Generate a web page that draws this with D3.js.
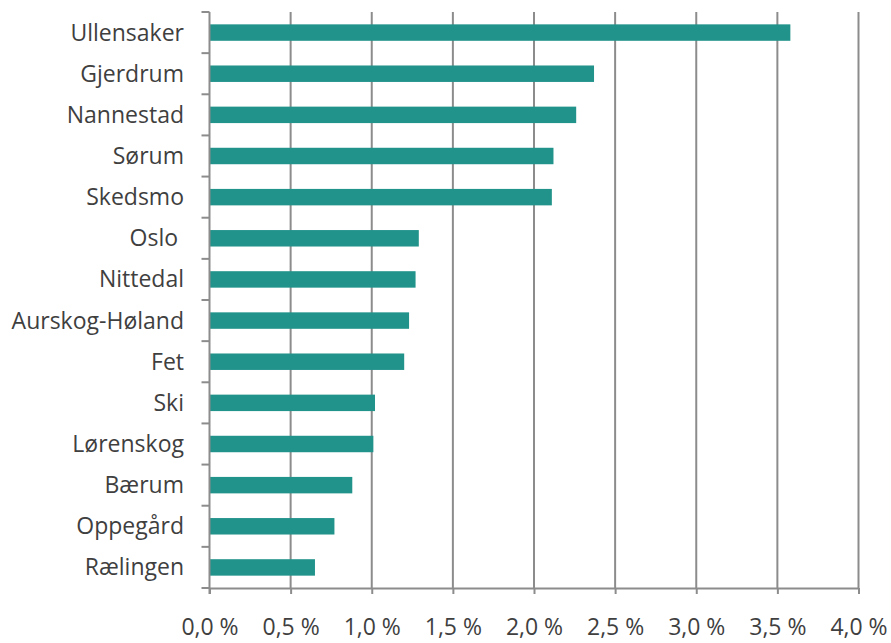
<!DOCTYPE html>
<html>
<head>
<meta charset="utf-8">
<script src="https://cdn.jsdelivr.net/npm/d3@7"></script>
<style>
  body { margin: 0; background: #fff; }
  text { font-family: "Open Sans", sans-serif; fill: #3f3f3f; white-space: pre; }
</style>
</head>
<body>
<div id="chart"></div>
<script>
const kommuner = ['Ullensaker', 'Gjerdrum', 'Nannestad', 'Sørum', 'Skedsmo', 'Oslo ', 'Nittedal',
  'Aurskog-Høland', 'Fet', 'Ski', 'Lørenskog', 'Bærum', 'Oppegård', 'Rælingen']
const vekst = [3.58, 2.37, 2.26, 2.12, 2.11, 1.29, 1.27, 1.23, 1.20, 1.02, 1.01, 0.88, 0.77, 0.65]
const xTicks = [0, 0.5, 1, 1.5, 2, 2.5, 3, 3.5, 4]

const width = 891
const height = 643
const plotLeft = 209.5
const plotRight = 858.5
const plotTop = 12
const plotBottom = 588

const svg = d3.select('#chart')
  .append('svg')
    .attr('width', width)
    .attr('height', height)

const xScale = d3.scaleLinear()
  .domain([0, 4])
  .range([plotLeft, plotRight])

const yScale = d3.scaleBand()
  .domain(kommuner)
  .range([plotTop, plotBottom])
  .paddingInner(0.6)
  .paddingOuter(0.3)

const fmt = d => d.toFixed(1).replace('.', ',') + ' %'

// vertical gridlines
svg.append('g')
  .selectAll('line')
  .data(xTicks.slice(1)).enter()
  .append('line')
    .attr('x1', d => xScale(d))
    .attr('x2', d => xScale(d))
    .attr('y1', plotTop)
    .attr('y2', plotBottom)
    .attr('stroke', '#8c8c8c')
    .attr('stroke-width', 2)

// bars
svg.append('g')
  .selectAll('rect')
  .data(kommuner).enter()
  .append('rect')
    .attr('x', xScale(0))
    .attr('y', d => yScale(d))
    .attr('width', (d, i) => xScale(vekst[i]) - xScale(0))
    .attr('height', yScale.bandwidth())
    .attr('fill', '#21938a')

// x axis
const xAxis = d3.axisBottom(xScale)
  .tickValues(xTicks)
  .tickFormat(fmt)
  .tickSize(6)
  .tickSizeOuter(0)
  .tickPadding(25)

const gx = svg.append('g')
  .attr('transform', `translate(0, ${plotBottom})`)
  .call(xAxis)
gx.select('.domain').attr('stroke', '#8c8c8c').attr('stroke-width', 2)
gx.selectAll('.tick line').attr('stroke', '#8c8c8c').attr('stroke-width', 2)
gx.selectAll('.tick text')
  .attr('font-size', 23)
  .attr('fill', '#3f3f3f')
  .style('font-family', '"Open Sans", sans-serif')

// y axis line and category separators
const step = yScale.step()
const bounds = kommuner.map(d => yScale(d) - step * 0.3).concat([plotBottom])

svg.append('line')
  .attr('x1', plotLeft).attr('x2', plotLeft)
  .attr('y1', plotTop).attr('y2', plotBottom + 6)
  .attr('stroke', '#8c8c8c')
  .attr('stroke-width', 2)

svg.append('g')
  .selectAll('line')
  .data(bounds).enter()
  .append('line')
    .attr('x1', plotLeft - 8)
    .attr('x2', plotLeft)
    .attr('y1', d => d)
    .attr('y2', d => d)
    .attr('stroke', '#8c8c8c')
    .attr('stroke-width', 2)

svg.append('g')
  .selectAll('text')
  .data(kommuner).enter()
  .append('text')
    .text(d => d)
    .attr('x', 184)
    .attr('y', d => yScale(d) + yScale.bandwidth() / 2)
    .attr('dy', '0.35em')
    .attr('text-anchor', 'end')
    .attr('font-size', 23)
</script>
</body>
</html>
